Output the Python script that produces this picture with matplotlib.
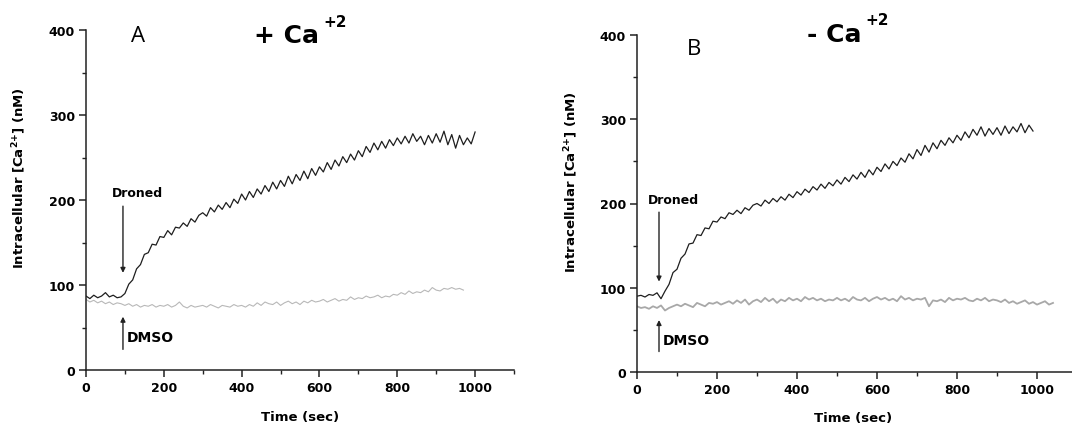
import numpy as np
from matplotlib import pyplot as plt
from matplotlib.ticker import MultipleLocator

plt.rcParams['font.family'] = ['DejaVu Sans']
plt.rcParams['font.weight'] = 'bold'
plt.rcParams['mathtext.fontset'] = 'custom'
plt.rcParams['mathtext.bf'] = 'DejaVu Sans:bold'
plt.rcParams['mathtext.rm'] = 'DejaVu Sans:bold'
plt.rcParams['mathtext.default'] = 'bf'

# panel A (+Ca), droned trace, every 10 s from 0 to 1000
a_droned_t = np.arange(0, 1001, 10)
a_droned = [
    87, 84, 88, 85, 87, 91, 86, 88, 85, 86,
    90, 101, 106, 119, 124, 136, 138, 148, 147, 157,
    156, 164, 159, 168, 167, 173, 169, 178, 174, 182,
    185, 181, 191, 186, 194, 189, 197, 191, 201, 196,
    207, 200, 210, 203, 213, 207, 217, 210, 221, 213,
    223, 216, 228, 219, 230, 223, 234, 225, 237, 229,
    239, 233, 244, 236, 247, 240, 251, 244, 254, 247,
    258, 251, 263, 256, 267, 259, 269, 261, 271, 264,
    273, 266, 275, 267, 278, 269, 275, 265, 276, 267,
    278, 268, 281, 265, 277, 261, 276, 265, 273, 266,
    280,
]
# panel A DMSO trace, every 10 s from 0 to 970
a_dmso_t = np.arange(0, 971, 10)
a_dmso = [
    83, 80, 82, 79, 81, 78, 80, 77, 79, 78,
    76, 78, 75, 77, 74, 76, 75, 77, 74, 76,
    75, 77, 74, 76, 80, 75, 73, 76, 74, 75,
    76, 74, 77, 75, 73, 76, 75, 74, 77, 75,
    76, 74, 77, 75, 79, 76, 80, 78, 77, 80,
    76, 79, 81, 78, 80, 77, 81, 79, 82, 80,
    81, 83, 80, 82, 84, 81, 83, 82, 86, 83,
    85, 84, 87, 85, 86, 88, 85, 87, 86, 89,
    88, 91, 89, 93, 90, 92, 91, 94, 92, 97,
    94, 93, 96, 95, 97, 95, 96, 94,
]
# panel B (-Ca), droned trace, every 10 s from 0 to 990
b_droned_t = np.arange(0, 991, 10)
b_droned = [
    90, 91, 89, 92, 91, 94, 87, 96, 104, 118,
    122, 135, 140, 152, 153, 163, 162, 171, 170, 179,
    178, 184, 182, 189, 187, 192, 188, 195, 192, 198,
    200, 197, 204, 200, 206, 202, 208, 204, 211, 207,
    214, 210, 217, 213, 220, 216, 223, 218, 225, 221,
    228, 223, 231, 226, 234, 229, 237, 231, 240, 234,
    243, 238, 247, 241, 250, 245, 254, 249, 259, 253,
    264, 257, 269, 261, 272, 265, 275, 269, 278, 272,
    281, 275, 285, 278, 288, 281, 291, 280, 289, 282,
    290, 281, 292, 283, 291, 285, 295, 284, 293, 286,
]
# panel B DMSO trace, every 10 s from 0 to 1040
b_dmso_t = np.arange(0, 1041, 10)
b_dmso = [
    78, 76, 77, 75, 78, 76, 79, 73, 76, 78,
    80, 78, 81, 79, 77, 82, 80, 78, 82, 81,
    83, 80, 82, 84, 81, 85, 82, 86, 80, 84,
    86, 83, 88, 84, 87, 82, 86, 84, 88, 85,
    87, 84, 89, 86, 88, 85, 87, 84, 86, 85,
    88, 85, 87, 84, 89, 86, 85, 88, 84, 87,
    89, 86, 88, 85, 87, 84, 90, 86, 88, 85,
    87, 86, 88, 78, 85, 84, 86, 83, 88, 85,
    87, 86, 88, 85, 84, 87, 85, 88, 84, 86,
    85, 83, 86, 82, 84, 81, 83, 85, 81, 83,
    80, 82, 84, 80, 82,
]

W, H = 1072, 427
fig = plt.figure(figsize=(W / 100, H / 100), dpi=100)


def px_box(left, right, top, bottom):
    return [left / W, 1 - bottom / H, (right - left) / W, (bottom - top) / H]


def style_axis(ax):
    ax.set_xlim(0, 1100)
    ax.set_ylim(0, 400)
    for s in ['top', 'right']:
        ax.spines[s].set_visible(False)
    for s in ['left', 'bottom']:
        ax.spines[s].set_linewidth(1.1)
        ax.spines[s].set_color('#222222')
    ax.xaxis.set_major_locator(MultipleLocator(200))
    ax.xaxis.set_minor_locator(MultipleLocator(100))
    ax.yaxis.set_major_locator(MultipleLocator(100))
    ax.yaxis.set_minor_locator(MultipleLocator(50))
    ax.tick_params(which='major', direction='out', length=5, width=1.1, labelsize=9, pad=3, color='#222222')
    ax.tick_params(which='minor', direction='out', length=3, width=1.0, color='#222222')
    ax.set_xticks([0, 200, 400, 600, 800, 1000])
    ax.set_xlabel('Time (sec)', fontsize=9.5, fontweight='bold')
    ax.set_ylabel(r'Intracellular [Ca$^{2{+}}$] (nM)', fontsize=9.5, fontweight='bold')


# panel A
ax1 = fig.add_axes(px_box(86, 514, 31, 371))
style_axis(ax1)
ax1.plot(a_dmso_t, a_dmso, color='#b8b8b8', lw=0.8)
ax1.plot(a_droned_t, a_droned, color='#1e1e1e', lw=0.9)
ax1.annotate('', xy=(95, 111), xytext=(95, 196),
             arrowprops=dict(arrowstyle='-|>', color='#222222', lw=1.0, mutation_scale=7))
ax1.annotate('', xy=(95, 66), xytext=(95, 21),
             arrowprops=dict(arrowstyle='-|>', color='#222222', lw=1.0, mutation_scale=7))
ax1.text(131, 209, 'Droned', fontsize=9, fontweight='bold', ha='center', va='center')
ax1.text(106, 39, 'DMSO', fontsize=10, fontweight='bold', ha='left', va='center')
ax1.yaxis.set_label_coords(-0.135, 0.568)
ax1.xaxis.set_label_coords(0.5, -0.118)

# panel B
ax2 = fig.add_axes(px_box(637, 1077, 36, 373))
style_axis(ax2)
ax2.plot(b_dmso_t, b_dmso, color='#a8a8a8', lw=1.3)
ax2.plot(b_droned_t, b_droned, color='#1e1e1e', lw=0.9)
ax2.annotate('', xy=(55, 104), xytext=(55, 193),
             arrowprops=dict(arrowstyle='-|>', color='#222222', lw=1.0, mutation_scale=7))
ax2.annotate('', xy=(55, 65), xytext=(55, 21),
             arrowprops=dict(arrowstyle='-|>', color='#222222', lw=1.0, mutation_scale=7))
ax2.text(90, 205, 'Droned', fontsize=9, fontweight='bold', ha='center', va='center')
ax2.text(64, 38, 'DMSO', fontsize=10, fontweight='bold', ha='left', va='center')
ax2.yaxis.set_label_coords(-0.13, 0.567)
ax2.xaxis.set_label_coords(0.49, -0.115)

# panel letters and titles, placed in figure pixels
def fig_text(x, y, s, **kw):
    fig.text(x / W, 1 - y / H, s, ha='left', va='baseline', **kw)

fig_text(131, 42, 'A', fontsize=16, fontweight='normal', family='Open Sans')
fig_text(687, 55, 'B', fontsize=16, fontweight='normal', family='Open Sans')
fig_text(254, 43, '+ Ca', fontsize=18, fontweight='bold')
fig_text(323, 27, '+2', fontsize=11, fontweight='bold')
fig_text(807, 42, '- Ca', fontsize=18, fontweight='bold')
fig_text(865, 25, '+2', fontsize=11, fontweight='bold')

fig.savefig('out.png', dpi=100, facecolor='white')
